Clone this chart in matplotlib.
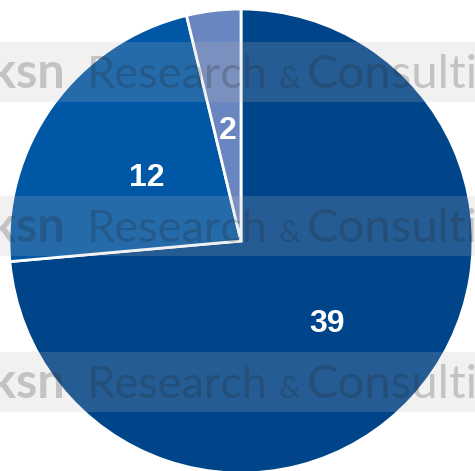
import numpy as np
import matplotlib.pyplot as plt
from matplotlib.transforms import offset_copy

W, H = 475, 471

values = [39, 12, 2]
colors = ['#004589', '#0057a5', '#6a86c0']

# watermark rows (pixel top of each band)
band_tops = [42, 196, 352]
band_height = 60

fig = plt.figure(figsize=(W / 100, H / 100), dpi=100)
ax = fig.add_axes([0, 0, 1, 1])

wedges, texts, autotexts = ax.pie(
    values, colors=colors, startangle=90, counterclock=False,
    center=(241, H - 241), radius=232, frame=True,
    autopct=lambda p: '%d' % round(p * sum(values) / 100),
    pctdistance=0.5,
    wedgeprops=dict(edgecolor='white', linewidth=2),
    textprops=dict(color='white', fontsize=23, fontweight='bold',
                   family='Liberation Sans'))
ax.set_xlim(0, W)
ax.set_ylim(0, H)
ax.set_aspect('equal')
ax.axis('off')
for t in autotexts:
    t.set_zorder(10)
    # labels sit a few pixels lower in the reference
    t.set_transform(offset_copy(ax.transData, fig=fig, x=0, y=-5, units='dots'))

# watermark bands and text
for top in band_tops:
    ax.add_patch(plt.Rectangle((0, H - top - band_height), W, band_height,
                               color='#bdbdbd', alpha=0.2, lw=0, zorder=3))
    base = H - top - 46
    kw = dict(color='#222222', alpha=0.22, va='baseline', ha='left',
              zorder=4, family='Lato')
    ax.text(-10, base, 'ksn', fontsize=35, fontweight='bold', **kw)
    ax.text(87, base, 'Research', fontsize=32.5, **kw)
    ax.text(279, base, '&', fontsize=22, **kw)
    ax.text(307, base, 'Consulti', fontsize=34, **kw)

fig.savefig('out.png', dpi=100)
